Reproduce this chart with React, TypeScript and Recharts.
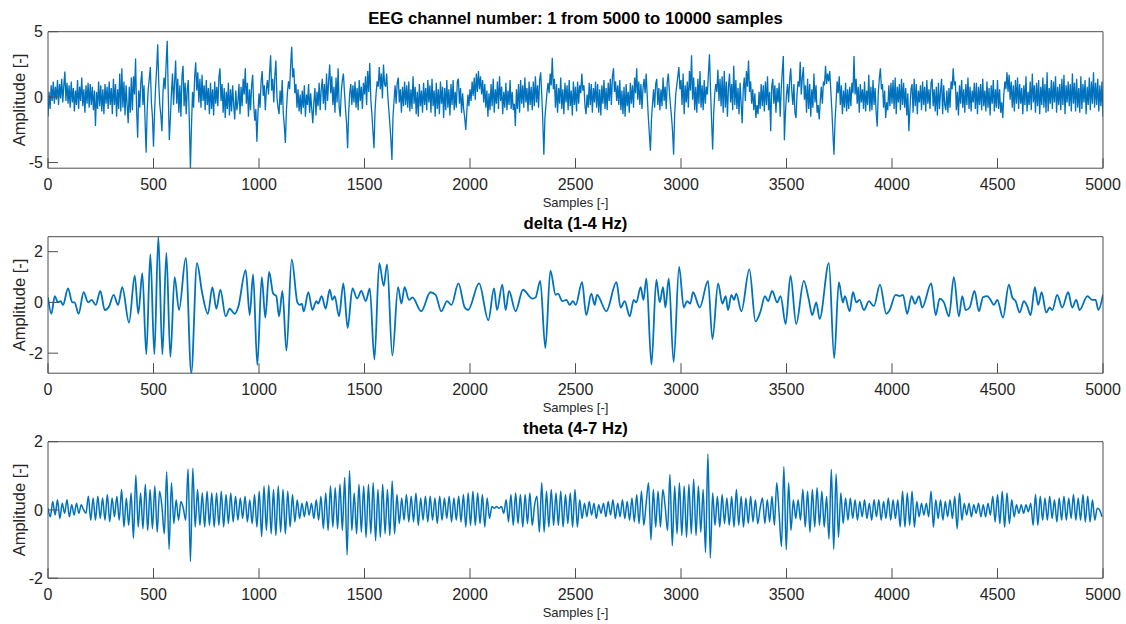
import { LineChart, Line, XAxis, YAxis } from "recharts";

// sample axis, shared by all three panels
const sampleTicks = [0, 500, 1000, 1500, 2000, 2500, 3000, 3500, 4000, 4500, 5000];

// raw EEG channel 1, read every 5 samples
const rawStep = 5;
const rawValues = [
  -1.5, 0.4, -0.9, 0.9, -0.3, 1.2, -0.5, 0.8, -0.2, 1.3,
  -0.6, 1.0, -0.1, 1.4, -0.4, 0.9, 1.95, -0.3, 1.1, -0.5,
  0.9, -0.8, 1.2, -0.4, 0.7, -1.1, 0.5, -0.6, 1.3, -0.9,
  0.8, -0.3, 1.5, -0.7, 0.6, -1.2, 0.9, -0.5, 1.1, -0.8,
  1.0, -0.6, 0.8, -1.0, 0.5, -2.2, 0.4, -0.9, 1.2, -0.7,
  0.9, -1.1, 0.6, -1.3, 1.0, -0.5, 0.8, -0.9, 1.2, -0.6,
  0.7, -1.3, 1.4, -0.6, 1.0, -1.5, 0.6, -0.9, 1.8, -1.1,
  2.2, -0.8, 1.2, -1.4, 0.9, -0.6, -2.0, 0.8, -1.2, 1.5,
  -1.0, 1.6, 0.2, 2.95, -1.0, -3.1, 0.5, -0.8, 1.2, 2.0,
  -0.6, 0.9, -1.8, -4.24, -1.0, 0.6, 1.4, 2.3, -0.4, -1.5,
  -3.78, -1.2, 0.8, 2.2, 4.03, 1.0, -0.6, -1.4, -2.6, 0.4,
  1.5, 0.6, 2.6, 4.3, 0.2, -3.27, -1.6, 0.3, 1.8, -0.6,
  1.2, 2.8, -0.5, 1.4, -1.2, 0.9, -1.5, 1.6, 2.4, -0.7,
  1.1, -1.3, 0.6, 1.3, -2.0, -5.43, -2.2, 0.4, -0.8, 1.5,
  2.66, 0.5, 1.9, -0.4, 1.4, -0.8, 1.7, -0.3, 0.9, -1.0,
  1.3, -0.6, 0.7, -1.3, 1.1, -0.9, 0.6, -1.4, 1.2, -0.5,
  0.8, -0.7, 1.5, 2.2, -0.3, 1.0, -1.2, 0.7, -1.6, 0.4,
  -0.9, 1.1, -1.4, 0.6, -1.1, 0.9, -0.6, -1.7, 0.5, -1.0,
  -0.4, 1.0, -1.3, 0.8, -0.7, 1.4, 0.2, 2.2, -0.5, 1.1,
  -1.5, 0.6, -1.0, 0.9, 1.7, -0.6, -1.8, -0.9, -3.4, -1.2,
  0.3, -0.8, 1.2, 2.0, 0.1, 0.9, -1.0, 0.6, 1.3, 0.2,
  1.8, 3.2, 0.5, 1.4, -0.4, 1.6, 2.8, 0.0, -0.8, -1.3,
  0.5, -0.6, 1.3, -1.2, -2.2, -3.5, -1.0, 0.4, 1.2, 0.6,
  2.4, 3.85, 1.5, 2.2, 0.3, 1.0, -0.8, 0.6, -1.1, 0.2,
  -1.3, 0.5, -0.8, 0.9, -1.5, 0.2, -0.6, 1.0, -1.2, 0.3,
  -0.9, -2.0, -0.4, 0.7, -1.4, 0.4, -0.7, 1.1, -1.0, 0.6,
  1.4, -0.5, 1.0, -1.0, 1.8, -0.3, 1.2, 2.5, 0.3, 1.6,
  -0.6, 0.8, -1.2, 1.5, -0.4, 2.2, -0.8, -1.5, 0.4, 1.3,
  1.8, 0.4, -0.9, -2.0, -3.9, -1.2, 0.3, 1.0, -0.6, 0.9,
  -0.4, 1.2, -0.8, 0.7, -1.0, 1.3, -0.3, 0.8, -0.9, 1.1,
  0.2, 1.6, -0.6, 2.0, 0.4, 2.6, -0.2, -1.3, -2.6, -3.9,
  -1.0, 0.3, 1.2, 0.8, 2.3, 0.6, 1.8, -0.1, 2.5, 1.0,
  0.8, 1.8, 0.2, -0.9, -2.0, -3.2, -4.8, -1.5, -0.3, 0.9,
  -0.5, 1.1, 1.5, -0.4, 0.6, -1.2, 0.8, -0.7, 1.2, -0.6,
  0.9, -0.8, 1.2, -1.1, 0.6, -0.9, 1.6, -0.5, 0.8, -1.3,
  0.4, -1.5, 1.0, -0.7, 0.5, -1.2, 1.1, -0.6, 0.7, -1.0,
  1.3, -0.4, 0.9, -1.2, 1.4, -0.7, 0.5, -1.5, 1.1, -0.9,
  0.6, -1.3, 1.2, -0.5, 0.8, -1.6, 0.7, -1.0, 1.3, -0.8,
  0.6, -1.4, 1.0, -0.6, 1.3, -1.0, 0.4, -0.8, 1.2, 1.4,
  -0.5, 0.7, -1.2, 0.3, -0.9, -1.6, -2.5, -1.1, 0.2, -0.7,
  0.6, -0.3, 1.2, 0.1, 1.5, -0.2, 1.8, 0.4, 2.0, 0.6,
  1.6, 0.2, 1.3, -0.4, 1.0, -0.8, 0.5, -1.5, 0.3, -1.0,
  1.0, -0.7, 1.4, -1.2, 0.6, -0.5, 1.2, -0.9, 1.6, -0.3,
  0.8, -1.3, 0.4, -0.8, 1.1, -1.0, 0.5, -0.6, 1.3, -0.9,
  0.4, -1.0, -0.5, -2.2, 0.6, -0.9, 1.0, -1.2, 1.3, -0.5,
  0.9, -0.8, 1.5, -0.4, 0.7, -1.1, 1.2, -0.6, 0.8, -1.0,
  1.2, -0.7, 1.6, -0.4, 0.9, -0.8, 1.3, 1.9, 0.2, -1.8,
  -4.4, -1.6, -0.6, 0.4, 1.1, 0.3, 1.8, 0.9, 3.0, 0.6,
  1.4, -0.8, 1.0, -1.2, 0.7, -0.5, 1.5, -0.9, 0.6, -1.3,
  1.1, -0.4, 0.9, -1.0, 1.3, -0.7, 0.5, -1.4, 1.2, -0.6,
  0.8, -1.1, 1.2, -0.5, 0.9, 0.3, 1.8, 0.5, 0.9, -0.7,
  -1.3, 0.2, -0.8, 1.1, -0.6, 1.0, -1.2, 0.7, -0.4, 1.2,
  -0.8, 1.0, -1.2, 0.6, -1.4, 0.9, -0.5, 1.3, -0.9, 0.7,
  -1.0, 1.1, -0.3, 1.4, -0.6, 1.6, 2.2, 0.4, 1.2, -0.3,
  0.9, -0.6, 1.3, -1.0, 0.5, -1.3, 0.8, -1.5, 1.0, -0.7,
  0.4, -1.2, 1.1, -0.5, 0.9, -0.8, 1.5, 0.3, 2.2, -0.2,
  1.2, -0.6, 1.0, -0.9, 0.7, 1.4, 0.3, 1.8, 0.1, -1.5,
  -2.8, -4.1, -1.7, -0.5, 0.6, -0.8, 1.0, 1.4, -0.6, 0.7,
  -1.0, 0.6, -0.7, 1.5, -0.3, 0.8, -0.9, 1.2, 1.8, 0.4,
  -0.6, -1.5, -2.6, -4.4, -1.3, 0.2, 0.9, 1.6, 2.3, 0.6,
  1.3, -0.6, 1.8, -1.3, 0.9, -0.4, 1.2, -0.8, 2.0, 0.5,
  3.2, -0.2, 1.5, -1.0, 0.8, -1.2, 1.4, -0.5, 2.0, -0.8,
  0.9, -1.0, 1.3, -0.5, 0.8, 0.2, 1.8, 3.27, 0.5, -1.8,
  -4.0, -1.2, 0.3, 1.0, 0.4, 2.1, -0.3, 1.4, -0.7, 1.6,
  -1.2, 2.0, -0.8, 1.2, -1.5, 0.8, 1.8, -0.4, 1.0, -1.0,
  2.4, -0.6, 1.3, -0.9, 0.7, -1.3, 1.1, -0.5, -2.0, 0.6,
  1.5, -0.3, 2.0, 0.8, 2.8, 0.4, 1.2, -0.5, 0.6, -1.0,
  0.3, -1.6, -0.6, -1.3, 0.4, -0.9, 1.0, -0.7, 0.9, -1.1,
  1.2, -0.6, 1.6, -1.0, 0.4, -2.6, 0.8, 1.4, -0.5, 0.9,
  -1.2, 0.7, -0.4, 1.1, -1.5, 0.6, 2.0, 3.14, -3.3, -1.2,
  0.2, 1.0, -0.4, 1.3, 2.2, 0.5, -0.6, 1.0, -1.2, -1.6,
  0.3, 1.2, 0.8, 2.7, 0.2, 1.5, 2.3, -0.2, 0.9, -1.2,
  1.4, -0.9, 1.0, -1.5, 0.6, -0.8, 1.8, -0.4, 0.9, -1.2,
  -0.6, -1.7, -0.3, 0.8, -0.5, 1.2, 0.9, 2.4, 1.0, 1.8,
  1.2, 2.0, 0.5, -1.0, -2.8, -4.4, -1.8, -0.4, 1.2, 0.3,
  1.6, -0.6, 0.9, -1.3, 0.5, -0.8, 1.1, -1.1, 0.6, -0.9,
  0.8, -0.7, 1.1, 0.3, 3.14, 0.2, 1.4, -0.5, 0.8, -1.2,
  1.0, -0.4, 0.6, -0.9, 1.2, -1.1, 0.5, -0.6, 1.7, -1.1,
  0.8, -1.0, 1.3, -0.6, 0.7, -1.2, -2.25, 0.4, 1.4, 2.2,
  0.6, 1.0, -0.8, 0.5, -1.6, -0.4, -1.0, 0.9, -0.7, 1.1,
  -0.5, 1.3, -0.9, 1.5, -1.3, 0.8, -0.4, 1.0, -1.0, 1.4,
  -0.6, 1.1, -0.8, 0.7, -1.4, 0.3, -2.6, -0.9, 0.6, 1.0,
  -1.2, 1.4, -0.7, 1.0, -1.3, 0.5, -0.4, 0.9, -1.0, 1.2,
  -0.6, 0.8, -1.1, 1.3, -0.5, 0.6, -0.9, 1.1, 1.4, -0.7,
  0.6, -1.1, 0.8, -1.4, 1.1, -0.9, 0.4, 1.4, -1.3, 0.9,
  -0.6, -1.0, 0.5, -1.2, 0.7, -0.8, 1.2, 0.6, 2.2, 0.9,
  1.2, -1.0, 0.4, -1.4, 0.9, -0.5, 1.3, -0.8, 0.6, -1.2,
  1.0, -0.6, 1.5, -0.9, 0.8, -1.1, 0.5, -0.4, 1.1, -0.9,
  1.1, -1.3, 0.8, -0.6, 1.0, -1.0, 1.4, -0.7, 0.5, -1.1,
  1.2, -0.8, 0.7, -1.4, 0.9, -0.5, 1.3, -1.1, 0.6, -0.8,
  1.3, -0.9, 0.6, -1.2, -0.4, -1.6, 0.2, 1.2, 0.6, 1.9,
  0.4, 1.7, -0.2, 1.2, -0.8, 0.9, -1.1, 1.3, -0.5, 1.5,
  -0.9, 1.0, -0.5, 0.7, -1.3, 0.9, -0.6, 1.6, -1.1, 0.4,
  -0.6, 1.2, -1.0, 1.8, -0.4, 0.9, -1.2, 1.1, -0.7, 1.3,
  -1.3, 0.8, -0.6, 1.5, -0.8, 1.0, -1.2, 1.9, -1.1, 0.7,
  -0.5, 1.3, -0.9, 1.2, -0.4, 1.6, -1.2, 0.8, -0.6, 1.0,
  -1.0, 1.4, -0.6, 1.7, -1.3, 0.9, -0.4, 1.2, -0.7, 1.0,
  -1.1, 1.8, -0.5, 1.1, -1.1, 1.4, -0.8, 0.7, -1.2, 1.6,
  -0.9, 1.0, -0.4, 1.3, -1.3, 0.8, -0.6, 1.5, -1.0, 1.2,
  -0.5, 1.9, -0.8, 1.1, -0.6, 1.4, -1.1, 0.9, -0.7, 1.2,
  -1.5,
];

// delta band: turning points of the filtered trace
const deltaSamples = [
  0, 16, 32, 47, 60, 71, 95, 115, 126, 145,
  169, 190, 207, 226, 248, 269, 290, 311, 332, 352,
  384, 411, 428, 447, 466, 485, 504, 523, 542, 561,
  580, 600, 621, 653, 679, 706, 730, 758, 779, 798,
  817, 842, 861, 885, 901, 937, 956, 972, 992, 1013,
  1030, 1048, 1067, 1082, 1095, 1111, 1130, 1155, 1182, 1193,
  1203, 1212, 1234, 1253, 1272, 1280, 1297, 1316, 1335, 1348,
  1359, 1379, 1400, 1420, 1443, 1465, 1485, 1506, 1525, 1547,
  1570, 1591, 1607, 1632, 1659, 1675, 1690, 1711, 1727, 1769,
  1812, 1837, 1864, 1891, 1912, 1945, 1975, 1991, 2043, 2087,
  2114, 2128, 2153, 2169, 2185, 2216, 2251, 2296, 2311, 2333,
  2357, 2381, 2406, 2417, 2438, 2457, 2472, 2488, 2501, 2531,
  2551, 2575, 2591, 2602, 2646, 2694, 2714, 2733, 2757, 2776,
  2788, 2809, 2822, 2836, 2860, 2883, 2899, 2915, 2926, 2942,
  2965, 2991, 3013, 3029, 3044, 3057, 3089, 3128, 3149, 3176,
  3196, 3212, 3223, 3239, 3251, 3262, 3286, 3324, 3353, 3377,
  3398, 3413, 3432, 3456, 3472, 3496, 3519, 3546, 3582, 3606,
  3622, 3641, 3657, 3701, 3726, 3748, 3767, 3777, 3799, 3815,
  3831, 3846, 3867, 3891, 3914, 3943, 3973, 3989, 4017, 4036,
  4052, 4072, 4093, 4109, 4128, 4143, 4186, 4207, 4226, 4246,
  4270, 4293, 4317, 4333, 4349, 4368, 4391, 4412, 4431, 4452,
  4467, 4483, 4499, 4526, 4554, 4570, 4586, 4605, 4625, 4641,
  4657, 4677, 4693, 4709, 4731, 4747, 4760, 4783, 4807, 4835,
  4854, 4873, 4889, 4926, 4949, 4965, 4978, 5000,
];
const deltaValues = [
  0.2, -0.45, 0.25, 0.0, 0.05, -0.1, 0.55, 0.0, 0.0, -0.45,
  0.4, 0.0, 0.1, -0.1, 0.45, -0.3, -0.15, 0.3, -0.1, 0.6,
  -0.8, 1.05, -0.45, 1.15, -2.05, 1.9, -2.05, 2.59, -2.05, 1.95,
  -2.15, 1.0, -0.3, 1.75, -2.79, 1.55, 0.4, -0.45, 0.6, -0.25,
  0.5, -0.55, -0.25, -0.45, -0.2, 1.27, -0.5, 1.1, -2.47, 1.0,
  -0.6, 1.2, 0.35, 0.25, -0.55, 0.45, -1.9, 1.7, 0.0, -0.1,
  -0.05, -0.35, 0.4, -0.3, 0.05, -0.05, 0.25, -0.25, 0.5, 0.1,
  0.25, -0.55, 0.75, -1.0, 0.55, 0.15, 0.45, 0.05, 0.55, -2.25,
  1.55, 0.65, 1.5, -2.1, 0.6, -0.05, 0.6, 0.1, 0.2, -0.35,
  0.4, 0.3, -0.35, 0.05, -0.1, 0.75, -0.2, -0.3, 0.75, -0.7,
  0.55, -0.3, 0.7, -0.3, 0.45, -0.35, 0.5, 0.15, 0.2, 0.85,
  -1.8, 1.25, 0.3, 0.35, 0.05, 0.1, -0.1, 0.05, -0.1, 0.8,
  -0.5, 0.35, -0.1, 0.3, -0.35, 0.8, -0.2, 0.05, -0.55, 0.1,
  0.0, 0.6, 0.1, 0.95, -2.45, 0.9, 0.0, 0.6, -0.2, 0.95,
  -2.35, 1.4, -0.2, 0.05, -0.05, 0.4, -0.2, 0.85, -1.45, 0.75,
  -0.05, 0.25, -0.3, 0.3, 0.1, 0.35, -0.35, 1.3, -0.75, -0.35,
  0.25, 0.05, 0.45, 0.0, 0.25, -0.85, 1.05, -0.85, 0.85, 0.1,
  -0.5, 0.0, -0.65, 1.55, -2.2, 0.8, 0.0, 0.25, -0.35, 0.4,
  0.0, 0.1, -0.3, 0.05, -0.15, 0.7, -0.45, -0.3, 0.3, 0.25,
  0.3, -0.45, 0.25, -0.05, 0.25, -0.2, 0.75, -0.5, 0.15, 0.0,
  -0.55, 1.0, -0.55, 0.25, -0.3, -0.2, 0.45, -0.35, 0.2, 0.25,
  0.1, -0.1, 0.1, -0.6, 0.7, 0.2, 0.05, -0.4, 0.05, -0.15,
  -0.5, 0.6, -0.1, 0.4, -0.4, -0.2, -0.3, 0.3, -0.2, 0.4,
  -0.2, 0.1, -0.3, 0.25, 0.1, 0.1, -0.3, 0.3,
];

// theta band, read every 11.25 samples (roughly half a cycle)
const thetaStep = 11.25;
const thetaValues = [
  0.05, -0.2, 0.25, -0.15, 0.3, -0.25, 0.2, -0.1, 0.3, -0.2,
  0.15, -0.15, 0.2, -0.1, 0.15, 0.0, -0.1, 0.4, -0.3, 0.35,
  -0.3, 0.4, -0.25, 0.35, -0.3, 0.45, -0.35, 0.35, -0.2, 0.4,
  -0.3, 0.6, -0.5, 0.35, -0.45, 0.5, -0.83, 1.02, -0.5, 0.5,
  -0.55, 0.75, -0.6, 0.6, -0.55, 0.7, -0.65, 0.55, 0.1, -0.7,
  1.12, -1.15, 0.8, -0.4, 0.3, -0.3, 0.25, 0.05, -0.3, 1.2,
  -1.51, 1.22, -0.5, 0.6, -0.45, 0.5, -0.5, 0.55, -0.45, 0.5,
  -0.5, 0.5, -0.45, 0.55, -0.5, 0.45, -0.4, 0.5, -0.35, 0.4,
  -0.3, 0.35, -0.25, 0.4, -0.35, 0.3, -0.4, 0.45, -0.5, 0.55,
  -0.78, 0.7, -0.6, 0.73, -0.7, 0.6, -0.75, 0.7, -0.65, 0.6,
  -0.7, 0.55, -0.5, 0.45, -0.35, 0.3, -0.25, 0.2, -0.2, 0.25,
  -0.15, 0.2, -0.25, 0.3, -0.3, 0.4, -0.55, 0.5, -0.6, 0.7,
  -0.5, 0.65, -0.55, 0.75, -0.6, 0.95, -1.32, 1.15, -0.6, 0.5,
  -0.7, 0.75, -0.65, 0.7, -0.8, 0.75, -0.7, 0.8, -0.9, 0.6,
  -0.8, 0.75, -0.7, 0.6, -0.75, 0.85, -0.7, 0.45, -0.4, 0.35,
  -0.3, 0.45, -0.35, 0.4, -0.35, 0.5, -0.45, 0.35, -0.3, 0.4,
  -0.35, 0.4, -0.3, 0.35, -0.4, 0.4, -0.3, 0.35, -0.25, 0.4,
  -0.35, 0.35, -0.3, 0.4, -0.35, 0.45, -0.5, 0.5, -0.45, 0.55,
  -0.45, 0.5, -0.4, 0.45, -0.5, 0.35, -0.25, 0.1, 0.05, 0.1,
  0.05, 0.1, -0.1, 0.3, -0.35, 0.45, -0.45, 0.5, -0.4, 0.45,
  -0.5, 0.45, -0.4, 0.5, -0.45, 0.15, 0.4, -0.65, 0.8, -0.65,
  0.55, -0.5, 0.6, -0.45, 0.5, -0.45, 0.55, -0.5, 0.45, -0.4,
  0.5, -0.5, 0.6, -0.5, 0.3, -0.25, 0.2, -0.2, 0.25, -0.15,
  0.2, -0.25, 0.15, -0.1, 0.2, -0.2, 0.25, -0.15, 0.3, -0.25,
  0.2, -0.2, 0.3, -0.25, 0.25, -0.3, 0.35, -0.35, 0.45, -0.4,
  0.55, -0.45, 0.2, 0.8, -0.88, 0.6, -0.5, 0.55, -0.5, 0.6,
  0.1, -0.6, 1.04, -1.05, 0.7, -0.7, 0.8, -0.75, 0.7, -0.8,
  0.75, -0.7, 0.9, -0.75, 0.7, -0.65, 0.6, -1.25, 1.64, -1.41,
  0.5, -0.45, 0.4, -0.5, 0.45, -0.4, 0.35, -0.45, 0.4, -0.5,
  0.6, -0.45, 0.4, -0.5, 0.35, -0.4, 0.4, -0.35, 0.3, -0.4,
  0.05, 0.35, -0.4, 0.3, -0.35, 0.4, -0.45, 0.8, -0.1, -1.07,
  1.27, -1.17, 0.8, -0.6, 0.3, -0.25, 0.3, -0.3, 0.6, -0.5,
  0.55, -0.65, 0.6, -0.5, 0.65, -0.45, 0.55, -0.5, 0.4, -0.85,
  1.19, -1.15, 1.05, -0.8, 0.5, -0.4, 0.35, -0.3, 0.35, -0.25,
  0.3, -0.3, 0.25, -0.2, 0.3, -0.25, 0.2, -0.3, 0.3, -0.2,
  0.3, -0.3, 0.25, -0.25, 0.35, -0.3, 0.3, -0.25, 0.3, -0.5,
  0.55, -0.5, 0.5, -0.45, 0.55, -0.5, 0.25, -0.2, 0.2, -0.15,
  0.2, -0.2, 0.55, -0.5, 0.3, -0.25, 0.3, -0.3, 0.25, -0.2,
  0.3, -0.25, 0.4, -0.55, 0.5, -0.3, 0.2, -0.15, 0.2, -0.2,
  0.15, -0.1, 0.2, -0.2, 0.15, -0.2, 0.2, -0.15, 0.4, -0.35,
  0.45, -0.4, 0.55, -0.5, 0.5, -0.4, 0.3, -0.2, 0.15, -0.1,
  0.15, -0.1, 0.15, -0.05, 0.2, -0.45, 0.45, -0.45, 0.4, -0.3,
  0.35, -0.3, 0.4, -0.25, 0.3, -0.35, 0.35, -0.3, 0.4, -0.3,
  0.35, -0.25, 0.45, -0.3, 0.35, -0.3, 0.45, -0.35, 0.4, -0.35,
  0.3, -0.3, 0.05, 0.0, -0.2,
];

const rawData = rawValues.map((v, i) => ({ sample: i * rawStep, value: v }));
const deltaData = deltaSamples.map((s, i) => ({ sample: s, value: deltaValues[i] }));
const thetaData = thetaValues.map((v, i) => ({ sample: i * thetaStep, value: v }));

const FONT = '"Liberation Sans", Arial, Helvetica, sans-serif';
const AXIS = "#4d4d4d";
const TEXT = "#262626";
const BLUE = "#0072BD";

function Panel({ top, title, data, domain, yTicks, curve, lineWidth }) {
  return (
    <div style={{ position: "absolute", left: 0, top, width: 1126, height: 205 }}>
      <div
        style={{
          position: "absolute", left: 48, width: 1055, top: 10, textAlign: "center",
          fontSize: 16.7, lineHeight: "18px", fontWeight: "bold", color: "#000",
        }}
      >
        {title}
      </div>
      <div
        style={{
          position: "absolute", left: 48, width: 1055, top: 194.5, textAlign: "center",
          fontSize: 13, lineHeight: "16px", color: TEXT,
        }}
      >
        Samples [-]
      </div>
      <div
        style={{
          position: "absolute", left: 18.5, top: 100, whiteSpace: "nowrap",
          transform: "translate(-50%, -50%) rotate(-90deg)",
          fontSize: 16.5, lineHeight: "18px", color: TEXT,
        }}
      >
        Amplitude [-]
      </div>
      <LineChart
        width={1126}
        height={205}
        data={data}
        margin={{ top: 30.7, right: 22, bottom: 6.8, left: 0 }}
      >
        <XAxis
          xAxisId="b"
          dataKey="sample"
          type="number"
          domain={[0, 5000]}
          ticks={sampleTicks}
          interval={0}
          allowDataOverflow
          height={30}
          stroke={AXIS}
          tickSize={-10}
          tickMargin={20}
          tick={{ fill: TEXT, fontSize: 16 }}
        />
        <XAxis
          xAxisId="t"
          orientation="top"
          dataKey="sample"
          type="number"
          domain={[0, 5000]}
          ticks={sampleTicks}
          interval={0}
          allowDataOverflow
          height={1}
          stroke={AXIS}
          tickSize={-10}
          tick={false}
        />
        <YAxis
          yAxisId="l"
          type="number"
          domain={domain}
          ticks={yTicks}
          interval={0}
          allowDataOverflow
          width={48}
          stroke={AXIS}
          tickSize={-10}
          tickMargin={15}
          tick={{ fill: TEXT, fontSize: 16 }}
        />
        <YAxis
          yAxisId="r"
          orientation="right"
          type="number"
          domain={domain}
          ticks={yTicks}
          interval={0}
          allowDataOverflow
          width={1}
          stroke={AXIS}
          tickSize={-10}
          tick={false}
        />
        <Line
          xAxisId="b"
          yAxisId="l"
          dataKey="value"
          type={curve}
          stroke={BLUE}
          strokeWidth={lineWidth}
          dot={false}
          activeDot={false}
          isAnimationActive={false}
        />
      </LineChart>
    </div>
  );
}

export default function App() {
  return (
    <div
      style={{
        position: "absolute", left: 0, top: 0, width: 1126, height: 624,
        background: "#fff", fontFamily: FONT,
      }}
    >
      <Panel
        top={0}
        title="EEG channel number: 1 from 5000 to 10000 samples"
        data={rawData}
        domain={[-5.43, 5]}
        yTicks={[-5, 0, 5]}
        curve="linear"
        lineWidth={1.3}
      />
      <Panel
        top={205}
        title="delta (1-4 Hz)"
        data={deltaData}
        domain={[-2.79, 2.59]}
        yTicks={[-2, 0, 2]}
        curve="monotone"
        lineWidth={1.8}
      />
      <Panel
        top={410}
        title="theta (4-7 Hz)"
        data={thetaData}
        domain={[-2, 2]}
        yTicks={[-2, 0, 2]}
        curve="monotone"
        lineWidth={1.5}
      />
    </div>
  );
}
